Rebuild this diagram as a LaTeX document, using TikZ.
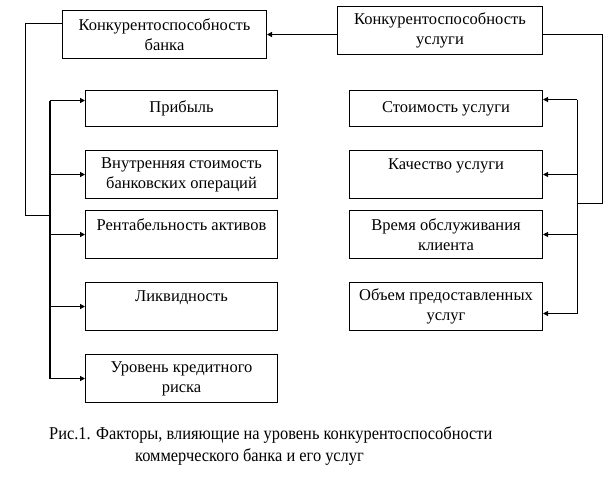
\documentclass[tikz,border=0pt]{standalone}
\usepackage{fontspec}
\setmainfont{Liberation Serif}
\newfontfamily\capfont{Liberation Serif}[FakeStretch=0.91]
\usetikzlibrary{arrows.meta,positioning}

\begin{document}
\begin{tikzpicture}[x=1pt, y=-1pt, >={Triangle[length=5pt,width=5pt]},
  box/.style={draw, line width=1pt, align=center, inner sep=0pt, anchor=north west, font=\fontsize{16.5}{20}\selectfont},
  lbox/.style={box, minimum width=192pt, minimum height=48pt},
  rbox/.style={box, minimum width=193pt, minimum height=48pt},
  feed/.style={->, line width=1.8pt},
  thinfeed/.style={->, line width=1pt}]
  \useasboundingbox (0,0) rectangle (609,480);
  % top level
  \node[box, minimum width=204pt, minimum height=48pt] (bank) at (62,10) {Конкурентоспособность\\ банка};
  \node[box, minimum width=205pt, minimum height=48pt] (serv) at (337,6) {Конкурентоспособность\\ услуги};
  % bank factors
  \node[lbox, minimum height=36pt] (profit) at (85,90) {Прибыль};
  \node[lbox] (inner) at (85,150) {Внутренняя стоимость\\ банковских операций};
  \node[lbox] (rent) at (85,210) {Рентабельность активов\\ ~};
  \node[lbox] (liq) at (85,282) {Ликвидность\\ ~};
  \node[lbox] (risk) at (85,354) {Уровень кредитного\\ риска};
  % service factors
  \node[rbox, minimum height=36pt] (cost) at (349,90) {Стоимость услуги};
  \node[rbox] (qual) at (349,150) {Качество услуги\\ ~};
  \node[rbox] (time) at (349,210) {Время обслуживания\\ клиента};
  \node[rbox] (vol) at (349,282) {Объем предоставленных\\ услуг};
  \node[anchor=west, align=left, inner sep=0pt, font=\capfont\fontsize{18}{22}\selectfont] (cap) at (49,446)
    {Рис.1. Факторы, влияющие на уровень конкурентоспособности\\ \hspace*{86pt}коммерческого банка и его услуг};
  \draw[feed] (serv.west |- bank.east) -- (bank.east);
  % left bracket
  \coordinate (lt) at (25,23);
  \coordinate (lb) at (25,215);
  \coordinate (ltrunk) at (50,215);
  \coordinate (ptop) at ([yshift=8pt]profit.west);
  \draw[line width=1pt] (bank.west |- lt) -- (lt) -- (lb) -- (ltrunk);
  \draw[line width=1.8pt] (ltrunk |- ptop) -- (ltrunk |- risk.west);
  \draw[feed] (ltrunk |- ptop) -- (ptop);
  \foreach \b in {inner, rent, liq, risk}
    \draw[feed] (ltrunk |- \b.west) -- (\b.west);
  % right bracket
  \coordinate (rt) at (602,34);
  \coordinate (rb) at (602,203);
  \coordinate (rtrunk) at (577,203);
  \coordinate (ctop) at ([yshift=9pt]cost.east);
  \coordinate (vbot) at ([yshift=-7pt]vol.east);
  \draw[line width=1pt] (serv.east |- rt) -- (rt) -- (rb) -- (rtrunk);
  \draw[line width=1pt] (rtrunk |- ctop) -- (rtrunk |- vbot);
  \draw[thinfeed] (rtrunk |- ctop) -- (ctop);
  \draw[thinfeed] (rtrunk |- vbot) -- (vbot);
  \foreach \b in {qual, time}
    \draw[thinfeed] (rtrunk |- \b.east) -- (\b.east);
\end{tikzpicture}
\end{document}
